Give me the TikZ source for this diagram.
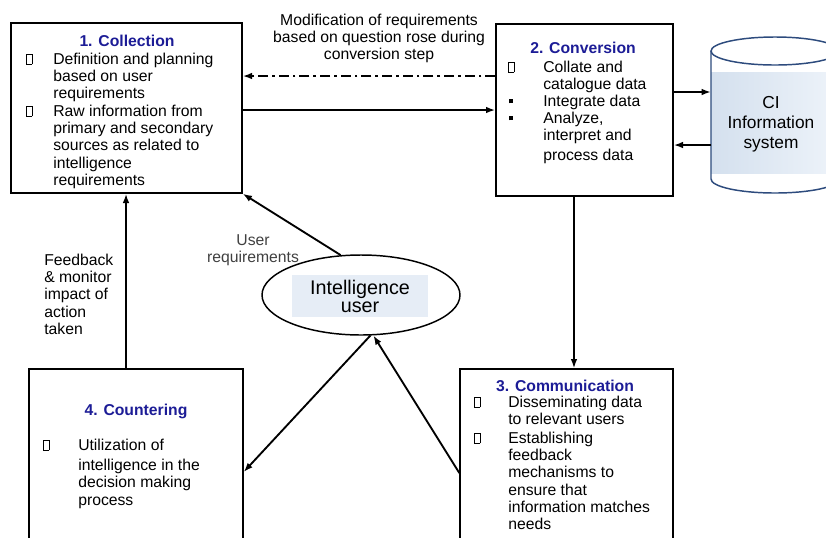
\documentclass[tikz,border=0pt]{standalone}
\usepackage{fontspec}
\setmainfont{Liberation Sans}
\usetikzlibrary{arrows.meta,shapes.geometric}
\definecolor{ttlblue}{RGB}{28,28,150}
\definecolor{cylline}{RGB}{45,75,125}
\definecolor{cylfillA}{RGB}{212,224,238}
\definecolor{cylfillB}{RGB}{236,242,249}
\definecolor{iufill}{RGB}{230,237,246}
\newcommand\ebox{{\fboxsep=0pt\fboxrule=0.5pt\fbox{\rule{0pt}{7pt}\hspace{3.5pt}}}}
\newcommand\sqb{\rule[2pt]{3pt}{3pt}}
\newcommand\tl[1]{\begin{tabular}[t]{@{}l@{}}#1\end{tabular}}
\newcommand\tc[1]{\begin{tabular}[t]{@{}c@{}}#1\end{tabular}}
\begin{document}
\begin{tikzpicture}[x=0.75pt,y=-0.75pt,
  box/.style={draw,line width=1pt,rectangle,inner sep=0pt},
  txt/.style={inner sep=0pt,anchor=base west,font=\fontsize{11.8}{13}\selectfont},
  ctxt/.style={inner sep=0pt,anchor=base,font=\fontsize{11.8}{13}\selectfont},
  ttl/.style={inner sep=0pt,anchor=base,font=\fontsize{11.8}{13}\selectfont\bfseries,text=ttlblue},
  arr/.style={line width=1.4pt,-{Latex[length=7pt,width=5pt]}}
]
\useasboundingbox (0,0) rectangle (826,537);
\clip (0,0) rectangle (826,537);

% helper coordinates
\coordinate (h76) at (0,76);
\coordinate (h110) at (0,110);
\coordinate (h92) at (0,92);
\coordinate (h145) at (0,145);
\coordinate (h472) at (0,472);
\coordinate (h473) at (0,473);
\coordinate (v574) at (574,0);
\coordinate (v126) at (126,0);

% boxes
\node[box,minimum width=173.25pt,minimum height=127.5pt] (coll) at (126.5,108) {};
\node[box,minimum width=132.75pt,minimum height=129pt] (conv) at (584.5,110) {};
\node[box,minimum width=160.5pt,minimum height=133.5pt] (count) at (136,458) {};
\node[box,minimum width=159.75pt,minimum height=133.5pt] (comm) at (566.5,458) {};

% cylinder
\fill[white] (711,51) -- (711,179) arc[start angle=180,end angle=360,x radius=48pt,y radius=10.5pt] -- (839,51) -- cycle;
\shade[left color=cylfillA,right color=cylfillB] (711,72) rectangle (830,173);
\draw[cylline,line width=1.1pt] (711,51) -- (711,179) arc[start angle=180,end angle=360,x radius=48pt,y radius=10.5pt] -- (839,51);
\draw[cylline,line width=1.1pt,fill=white] (775,51) ellipse[x radius=48pt,y radius=10.5pt];
\coordinate (cyl1) at (711,92);
\coordinate (cyl2) at (711,145);
\node[inner sep=0pt,anchor=base,font=\fontsize{13}{15}\selectfont] (ci) at (771,108) {\tc{CI\\Information\\system}};

% intelligence user
\node[draw,ellipse,line width=1.1pt,fill=white,minimum width=148.5pt,minimum height=60pt,inner sep=0pt] (iu) at (361,295) {};
\fill[iufill] (292,275) rectangle (428,317);
\node[inner sep=0pt,anchor=base,font=\fontsize{14.8}{13.5}\selectfont] (iut) at (360,294) {\tc{Intelligence\\user}};

% 1. Collection
\node[ttl] (t1) at (127,46) {1. Collection};
\node[txt] (b1a) at (26,64) {\ebox};
\node[txt] (c1a) at (53,64) {\tl{Definition and planning\\based on user\\requirements}};
\node[txt] (b1b) at (26,116) {\ebox};
\node[txt] (c1b) at (53,116) {\tl{Raw information from\\primary and secondary\\sources as related to\\intelligence\\requirements}};

% 2. Conversion
\node[ttl] (t2) at (583,53) {2. Conversion};
\node[txt] (b2a) at (508,72) {\ebox};
\node[txt] (c2a) at (543,72) {\tl{Collate and\\catalogue data}};
\node[txt] (b2b) at (509,106) {\sqb};
\node[txt] (c2b) at (543,106) {Integrate data};
\node[txt] (b2c) at (509,123) {\sqb};
\node[txt] (c2c) at (543,123) {\tl{Analyze,\\interpret and\\[2.25pt]process data}};

% 3. Communication
\node[ttl] (t3) at (565,391) {3. Communication};
\node[txt] (b3a) at (474,407) {\ebox};
\node[txt] (c3a) at (508,407) {\tl{Disseminating data\\to relevant users}};
\node[txt] (b3b) at (474,443) {\ebox};
\node[txt] (c3b) at (508,443) {\tl{Establishing\\feedback\\mechanisms to\\ensure that\\information matches\\needs}};

% 4. Countering
\node[ttl] (t4) at (136,415) {4. Countering};
\node[txt] (b4a) at (43,450) {\ebox};
\node[txt] (c4a) at (78,450) {\tl{Utilization of\\[2.25pt]intelligence in the\\decision making\\process}};

% labels
\node[ctxt] (mod) at (379,25) {\tc{Modification of requirements\\based on question rose during\\conversion step}};
\node[ctxt,text=black!75] (ureq) at (253,245) {\tc{User\\requirements}};
\node[txt] (fb) at (44,265) {\tl{Feedback\\\& monitor\\impact of\\action\\taken}};

% connectors
\draw[arr,dash pattern=on 7.5pt off 3pt on 2pt off 3pt] (conv.west |- h76) -- (coll.east |- h76);
\draw[arr] (coll.east |- h110) -- (conv.west |- h110);
\draw[arr] (conv.east |- h92) -- (cyl1);
\draw[arr] (cyl2) -- (conv.east |- h145);
\draw[arr] (conv.south -| v574) -- (comm.north -| v574);
\draw[arr] (count.north -| v126) -- (coll.south -| v126);
\draw[arr] (iu.117) -- (coll.south east);
\draw[arr] (iu.-77) -- (count.east |- h472);
\draw[arr] (comm.west |- h473) -- (iu.-73);
\end{tikzpicture}
\end{document}
